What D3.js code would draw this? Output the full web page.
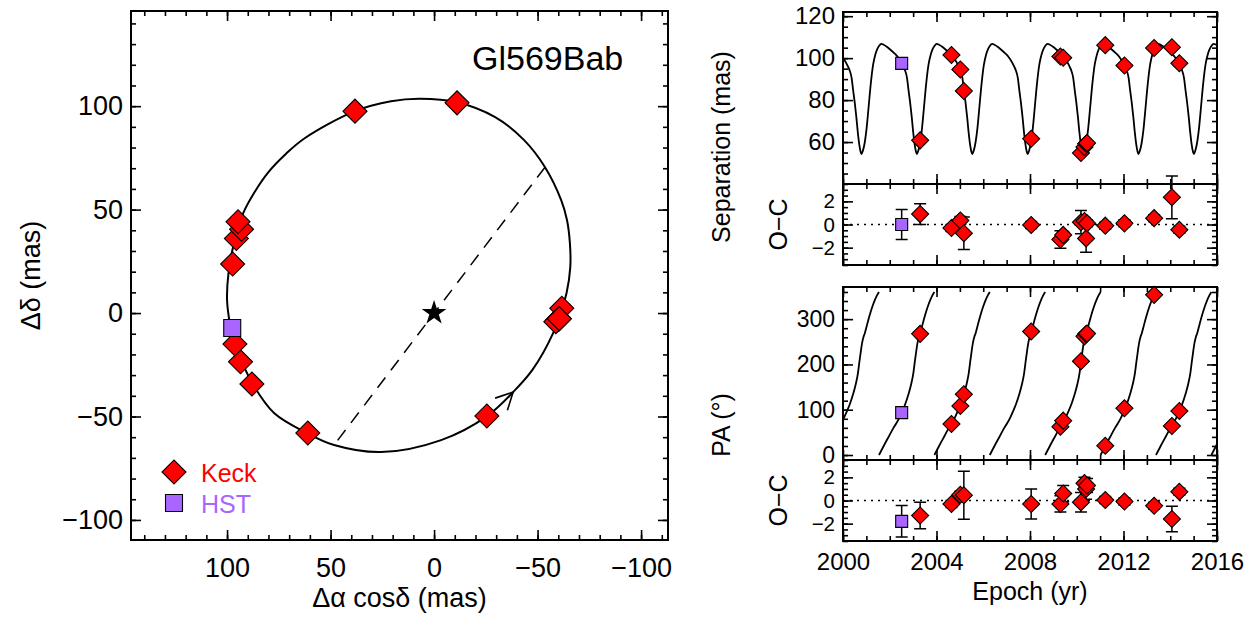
<!DOCTYPE html>
<html>
<head>
<meta charset="utf-8">
<script src="https://cdnjs.cloudflare.com/ajax/libs/d3/7.8.5/d3.min.js"></script>
<style>
  body { margin: 0; background: #fff; }
  svg { font-family: "Liberation Sans", Arial, Helvetica, sans-serif; }
</style>
</head>
<body>
<svg id="chart" width="1257" height="619"></svg>
<script>

// data ====================

var keckColor = "#ff0000";
var hstColor = "#a865ff";

// relative astrometry on the sky (mas)
var keckRA  = [-60.5, 95.5, 88, 61, -61.7, 93, 97.3, -25.5, -59.7, -58.8, -60.5, 38.2, 93.5, -11.1, 94.7, 96.2];
var keckDec = [-2.7, 36, -34.3, -58, 2.3, 40.5, 23.7, -49.8, -3.4, -4.2, -2.7, 97.6, -23.5, 101.6, 44.1, -15];
var hstRA  = [97.5];
var hstDec = [-7.2];

// same epochs as time series
var keckEpoch  = [2003.30, 2004.64, 2005.02, 2005.17, 2008.05, 2009.30, 2009.42, 2010.18, 2010.33, 2010.40, 2010.44, 2011.22, 2012.04, 2013.31, 2014.07, 2014.39];
var keckSep    = [60.8, 101.5, 94.6, 84.3, 61.6, 100.8, 100.2, 54.8, 57.6, 59.2, 59.5, 106.2, 96.5, 104.8, 105.2, 97.6];
var keckSepOC  = [0.9, -0.3, 0.35, -0.75, -0.05, -1.3, -0.9, 0.2, 0.3, -1.2, 0.1, -0.1, 0.1, 0.55, 2.35, -0.45];
var keckSepErr = [0.9, 0.3, 0.35, 1.4, 0.3, 0.75, 0.3, 1.0, 0.3, 1.2, 0.3, 0.3, 0.3, 0.3, 1.85, 0.3];
var keckPA     = [267.5, 68.5, 108.3, 134.1, 272.7, 62.6, 75.9, 207.1, 262, 267, 268.5, 20.6, 103.2, 353.7, 64.1, 97.3];
var keckPAOC   = [-1.3, -0.3, 0.5, 0.45, -0.3, -0.3, 0.6, -0.15, 1.5, 1.0, 1.3, 0.05, -0.08, -0.45, -1.6, 0.75];
var keckPAErr  = [1.15, 0.3, 0.3, 2.07, 1.3, 0.7, 0.7, 0.85, 0.5, 0.9, 0.6, 0.3, 0.3, 0.3, 1.1, 0.3];

var hstEpoch = [2002.51];
var hstSep = [97.5], hstSepOC = [0.0], hstSepErr = [1.3];
var hstPA = [93.6], hstPAOC = [-1.8], hstPAErr = [1.36];

// best-fit orbit traced on the sky (mas)
var orbitRA  = [100, 99.3, 96.6, 92.2, 86.5, 80.3, 71.5, 62.5, 38.2, 20.8, 6.8, -11.1, -29.5, -43.5, -53.6, -61.4, -64.2, -65.6, -65.8, -64, -61.8, -57.5, -47.5, -38.2, -25.6, -3.4, 25.6, 48.3, 61.4, 77.3, 87.9, 93.2, 96.6, 98.3];
var orbitDec = [6.3, 19.3, 34, 48.3, 58.8, 67.8, 77, 84.5, 97.6, 102.4, 103.6, 101.9, 94.7, 83.6, 70.5, 54.6, 45, 34, 22.2, 9.7, 2.4, -9.7, -27.5, -38.2, -49.8, -61.4, -67.2, -63.8, -58, -48.3, -33.8, -22.7, -14.5, -7.2];
// dashed line across the orbit
var nodeRA  = [-53.6, 48.3];
var nodeDec = [70.5, -63.8];

// model vs time: epochs of minimum separation, and one orbit's shape after each
var minEpochs = [1998.42, 2000.79, 2003.16, 2005.53, 2007.90, 2010.27, 2012.64, 2015.01, 2017.38];
var sepPhase = [0, 0.05, 0.10, 0.15, 0.22, 0.30, 0.40, 0.50, 0.60, 0.67, 0.75, 0.85, 0.95, 1.10, 1.25, 1.40, 1.50, 1.60, 1.72, 1.80, 1.86, 1.95, 2.01, 2.08, 2.15, 2.22, 2.28, 2.33];
var sepModel = [54.3, 55.5, 57.5, 60.5, 66.5, 76, 88, 97, 102, 104.2, 105.8, 106.8, 106.4, 105.3, 103.9, 102.4, 101.3, 99.8, 97.6, 95.8, 94.3, 90.5, 85, 79, 72, 64, 58.5, 55.5];
var paPhase = [-1.62, -1.42, -1.20, -1.00, -0.89, -0.75, -0.62, -0.50, -0.36, -0.25, -0.15, -0.09, -0.03, 0.03, 0.09, 0.14, 0.22, 0.32, 0.45, 0.58, 0.67, 0.75];
var paModel = [0, 20, 41, 60, 69, 82, 97, 112, 134, 155, 181, 205, 228, 248, 261, 268.5, 284, 303, 325, 343, 353, 360];

// layout ====================

var svg = d3.select('#chart');

var fmtInt = d3.format('d');

function drawAxes(g, x, y, o) {
  var xl = x.range()[0], xr = x.range()[1];
  var yb = y.range()[0], yt = y.range()[1];

  function add(axis, tx, ty, size, vals, labels, pad) {
    axis.tickValues(vals)
      .tickSize(-size)
      .tickSizeOuter(0)
      .tickPadding(pad)
      .tickFormat(labels ? o.fmt : function() { return ''; });
    var ag = g.append('g')
      .attr('transform', 'translate(' + tx + ',' + ty + ')')
      .call(axis);
    ag.attr('font-family', null).attr('font-size', null);
    ag.select('.domain').remove();
    ag.selectAll('line').attr('stroke', '#000').attr('stroke-width', 1.6);
    ag.selectAll('text').attr('fill', '#000');
    return ag;
  }

  add(d3.axisBottom(x), 0, yb, 10, o.xMajor, o.xLabels, o.xPad).selectAll('text').attr('font-size', o.fontSize);
  add(d3.axisBottom(x), 0, yb, 5, o.xMinor, false, 0);
  add(d3.axisTop(x), 0, yt, 10, o.xMajor, false, 0);
  add(d3.axisTop(x), 0, yt, 5, o.xMinor, false, 0);
  add(d3.axisLeft(y), xl, 0, 10, o.yMajor, true, 8).selectAll('text').attr('font-size', o.yFontSize || o.fontSize);
  add(d3.axisLeft(y), xl, 0, 5, o.yMinor, false, 0);
  add(d3.axisRight(y), xr, 0, 10, o.yMajor, false, 0);
  add(d3.axisRight(y), xr, 0, 5, o.yMinor, false, 0);

  g.append('rect')
    .attr('x', xl)
    .attr('y', yt)
    .attr('width', xr - xl)
    .attr('height', yb - yt)
    .attr('fill', 'none')
    .attr('stroke', '#000')
    .attr('stroke-width', 2);
}

function stepRange(a, b, s) {
  return d3.range(Math.round((b - a) / s) + 1).map(function(i) { return +(a + i * s).toFixed(3); });
}

// orbit on the sky ====================

var xs = d3.scaleLinear().domain([146.4, -113]).range([131, 668]);
var ys = d3.scaleLinear().domain([-109.7, 146]).range([540, 11]);

var left = svg.append('g');

var orbitPts = orbitRA.map(function(d, i) { return [d, orbitDec[i]]; });

left.append('path')
  .datum(orbitPts)
  .attr('d', d3.line()
    .x(function(d) { return xs(d[0]); })
    .y(function(d) { return ys(d[1]); })
    .curve(d3.curveCatmullRomClosed.alpha(0.5)))
  .attr('fill', 'none')
  .attr('stroke', '#000')
  .attr('stroke-width', 2);

left.append('line')
  .attr('x1', xs(nodeRA[0])).attr('y1', ys(nodeDec[0]))
  .attr('x2', xs(nodeRA[1])).attr('y2', ys(nodeDec[1]))
  .attr('stroke', '#000')
  .attr('stroke-width', 1.5)
  .attr('stroke-dasharray', '13,9');

// open arrowhead showing direction of motion
var ai = 23;
var tip = [xs(orbitRA[ai]), ys(orbitDec[ai])];
var ang = Math.atan2(ys(orbitDec[ai - 1]) - ys(orbitDec[ai + 1]), xs(orbitRA[ai - 1]) - xs(orbitRA[ai + 1]));
var arrow = d3.path();
[-1, 1].forEach(function(s) {
  var a = ang + Math.PI + s * 0.47;
  arrow.moveTo(tip[0] + 19 * Math.cos(a), tip[1] + 19 * Math.sin(a));
  arrow.lineTo(tip[0], tip[1]);
});
left.append('path')
  .attr('d', arrow.toString())
  .attr('fill', 'none')
  .attr('stroke', '#000')
  .attr('stroke-width', 1.6);

left.append('path')
  .attr('d', d3.symbol(d3.symbolStar, 190)())
  .attr('transform', 'translate(' + xs(0) + ',' + ys(0) + ')')
  .attr('fill', '#000');

var diamondBig = d3.symbol(d3.symbolSquare, 288)();
var squareBig = d3.symbol(d3.symbolSquare, 289)();

left.selectAll('.keck')
  .data(keckRA)
  .enter().append('path')
  .attr('d', diamondBig)
  .attr('transform', function(d, i) { return 'translate(' + xs(d) + ',' + ys(keckDec[i]) + ') rotate(45)'; })
  .attr('fill', keckColor)
  .attr('stroke', '#000')
  .attr('stroke-width', 1.1);

left.selectAll('.hst')
  .data(hstRA)
  .enter().append('path')
  .attr('d', squareBig)
  .attr('transform', function(d, i) { return 'translate(' + xs(d) + ',' + ys(hstDec[i]) + ')'; })
  .attr('fill', hstColor)
  .attr('stroke', '#000')
  .attr('stroke-width', 1.1);

drawAxes(left, xs, ys, {
  xMajor: [100, 50, 0, -50, -100],
  xMinor: stepRange(-110, 140, 10),
  yMajor: [-100, -50, 0, 50, 100],
  yMinor: stepRange(-100, 140, 10),
  xLabels: true,
  xPad: 18,
  fmt: fmtInt,
  fontSize: 27
});

left.append('text')
  .attr('x', 472).attr('y', 70)
  .attr('font-size', 34)
  .text('Gl569Bab');

left.append('text')
  .attr('x', 399.5).attr('y', 607)
  .attr('text-anchor', 'middle')
  .attr('font-size', 27)
  .text('Δα cosδ (mas)');

left.append('text')
  .attr('transform', 'translate(40,275.5) rotate(-90)')
  .attr('text-anchor', 'middle')
  .attr('font-size', 27)
  .text('Δδ (mas)');

// legend
left.append('path')
  .attr('d', diamondBig)
  .attr('transform', 'translate(174,472) rotate(45)')
  .attr('fill', keckColor).attr('stroke', '#000').attr('stroke-width', 1.1);
left.append('text')
  .attr('x', 201).attr('y', 482)
  .attr('font-size', 25)
  .attr('fill', keckColor)
  .text('Keck');
left.append('path')
  .attr('d', squareBig)
  .attr('transform', 'translate(174,503)')
  .attr('fill', hstColor).attr('stroke', '#000').attr('stroke-width', 1.1);
left.append('text')
  .attr('x', 201).attr('y', 513)
  .attr('font-size', 25)
  .attr('fill', hstColor)
  .text('HST');

// time series ====================

var xt = d3.scaleLinear().domain([2000, 2016]).range([843, 1217]);
var yearMajor = [2000, 2004, 2008, 2012, 2016];
var yearMinor = d3.range(2000, 2017);

var diamondSmall = d3.symbol(d3.symbolSquare, 145)();
var squareSmall = d3.symbol(d3.symbolSquare, 144)();

function panel(id, top, bottom, domain, yMajor, yMinor, xLabels, yFont) {
  var g = svg.append('g');
  var y = d3.scaleLinear().domain(domain).range([bottom, top]);
  g.append('clipPath').attr('id', id)
    .append('rect')
    .attr('x', xt.range()[0]).attr('y', top)
    .attr('width', xt.range()[1] - xt.range()[0]).attr('height', bottom - top);
  return { g: g, y: y, axes: function() {
    drawAxes(g, xt, y, {
      xMajor: yearMajor, xMinor: yearMinor,
      yMajor: yMajor, yMinor: yMinor,
      xLabels: xLabels, xPad: 12,
      fmt: fmtInt, fontSize: 24, yFontSize: yFont
    });
  } };
}

function errorBars(p, epochs, vals, errs) {
  var eb = d3.path();
  epochs.forEach(function(t, i) {
    var x = xt(t), y1 = p.y(vals[i] + errs[i]), y2 = p.y(vals[i] - errs[i]);
    eb.moveTo(x, y1); eb.lineTo(x, y2);
    eb.moveTo(x - 6, y1); eb.lineTo(x + 6, y1);
    eb.moveTo(x - 6, y2); eb.lineTo(x + 6, y2);
  });
  p.g.append('path')
    .attr('d', eb.toString())
    .attr('fill', 'none').attr('stroke', '#000').attr('stroke-width', 1.5);
}

function markers(p, epochs, vals, shape, rot, color) {
  p.g.append('g').selectAll('path')
    .data(epochs)
    .enter().append('path')
    .attr('d', shape)
    .attr('transform', function(d, i) { return 'translate(' + xt(d) + ',' + p.y(vals[i]) + ')' + rot; })
    .attr('fill', color)
    .attr('stroke', '#000')
    .attr('stroke-width', 1.1);
}

function zeroLine(p) {
  p.g.append('line')
    .attr('x1', xt.range()[0]).attr('x2', xt.range()[1])
    .attr('y1', p.y(0)).attr('y2', p.y(0))
    .attr('stroke', '#000')
    .attr('stroke-width', 1.3)
    .attr('stroke-dasharray', '2,5');
}

var modelLine = function(p) {
  return d3.line()
    .x(function(d) { return xt(d[0]); })
    .y(function(d) { return p.y(d[1]); })
    .curve(d3.curveMonotoneX);
};

// separation
var pSep = panel('clipSep', 12, 184, [40, 122], [60, 80, 100, 120], stepRange(45, 120, 5), false);
var sepPts = [];
minEpochs.forEach(function(m) {
  sepPhase.forEach(function(ph, i) { sepPts.push([m + ph, sepModel[i]]); });
});
pSep.g.append('path')
  .datum(sepPts)
  .attr('clip-path', 'url(#clipSep)')
  .attr('d', modelLine(pSep))
  .attr('fill', 'none').attr('stroke', '#000').attr('stroke-width', 1.8);
markers(pSep, hstEpoch, hstSep, squareSmall, '', hstColor);
markers(pSep, keckEpoch, keckSep, diamondSmall, ' rotate(45)', keckColor);
pSep.axes();

// separation residuals
var pSepOC = panel('clipSepOC', 184, 265, [-3.5, 3.5], [-2, 0, 2], stepRange(-3.5, 3.5, 0.5), false, 20.5);
zeroLine(pSepOC);
errorBars(pSepOC, hstEpoch, hstSepOC, hstSepErr);
errorBars(pSepOC, keckEpoch, keckSepOC, keckSepErr);
markers(pSepOC, hstEpoch, hstSepOC, squareSmall, '', hstColor);
markers(pSepOC, keckEpoch, keckSepOC, diamondSmall, ' rotate(45)', keckColor);
pSepOC.axes();

// position angle
var pPA = panel('clipPA', 287, 460, [-11, 371], [0, 100, 200, 300], stepRange(0, 360, 20), false, 23);
minEpochs.forEach(function(m) {
  var seg = paPhase.map(function(ph, i) { return [m + ph, paModel[i]]; });
  pPA.g.append('path')
    .datum(seg)
    .attr('clip-path', 'url(#clipPA)')
    .attr('d', modelLine(pPA))
    .attr('fill', 'none').attr('stroke', '#000').attr('stroke-width', 1.8);
});
markers(pPA, hstEpoch, hstPA, squareSmall, '', hstColor);
markers(pPA, keckEpoch, keckPA, diamondSmall, ' rotate(45)', keckColor);
pPA.axes();

// position angle residuals
var pPAOC = panel('clipPAOC', 460, 541, [-3.5, 3.5], [-2, 0, 2], stepRange(-3.5, 3.5, 0.5), true, 20.5);
zeroLine(pPAOC);
errorBars(pPAOC, hstEpoch, hstPAOC, hstPAErr);
errorBars(pPAOC, keckEpoch, keckPAOC, keckPAErr);
markers(pPAOC, hstEpoch, hstPAOC, squareSmall, '', hstColor);
markers(pPAOC, keckEpoch, keckPAOC, diamondSmall, ' rotate(45)', keckColor);
pPAOC.axes();

// titles
svg.append('text')
  .attr('transform', 'translate(730,147) rotate(-90)')
  .attr('text-anchor', 'middle').attr('font-size', 25)
  .text('Separation (mas)');
svg.append('text')
  .attr('transform', 'translate(787,224.5) rotate(-90)')
  .attr('text-anchor', 'middle').attr('font-size', 25)
  .text('O−C');
svg.append('text')
  .attr('transform', 'translate(730,425) rotate(-90)')
  .attr('text-anchor', 'middle').attr('font-size', 25)
  .text('PA (°)');
svg.append('text')
  .attr('transform', 'translate(787,500.5) rotate(-90)')
  .attr('text-anchor', 'middle').attr('font-size', 25)
  .text('O−C');
svg.append('text')
  .attr('x', 1030).attr('y', 600)
  .attr('text-anchor', 'middle').attr('font-size', 25)
  .text('Epoch (yr)');

</script>
</body>
</html>
